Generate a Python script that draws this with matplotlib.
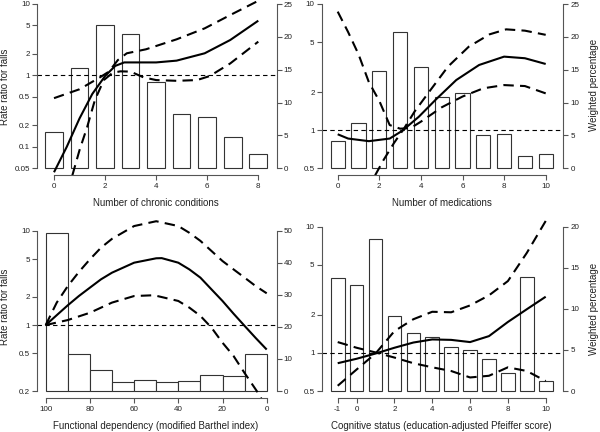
import numpy as np
import matplotlib
matplotlib.use("Agg")
from matplotlib import pyplot as plt

plt.rcParams['font.family'] = ['Liberation Sans', 'DejaVu Sans']

# ---- panel 1: chronic conditions ----
chronic_bins = [0, 1, 2, 3, 4, 5, 6, 7, 8]
chronic_pct = [5.5, 15.2, 21.8, 20.4, 13.2, 8.3, 7.8, 4.7, 2.1]
chronic_x = [0, 0.5, 1, 1.5, 2, 2.4, 2.75, 3.25, 4, 4.8, 5.9, 6.9, 8]
chronic_rr = [0.044, 0.10, 0.25, 0.55, 0.98, 1.36, 1.52, 1.52, 1.52, 1.61, 2.04, 3.13, 5.84]
chronic_up_x = [0, 1, 1.8, 2.15, 2.5, 2.85, 3.6, 4.8, 5.9, 6.9, 8]
chronic_up = [0.48, 0.64, 0.94, 1.13, 1.64, 2.04, 2.32, 3.2, 4.56, 7.0, 11.1]
chronic_lo_x = [0.72, 1, 1.3, 1.6, 1.95, 2.3, 2.6, 3, 3.5, 4, 4.8, 5.6, 6.1, 6.9, 8]
chronic_lo = [0.04, 0.09, 0.19, 0.45, 0.86, 1.09, 1.14, 1.13, 0.94, 0.86, 0.84, 0.86, 0.98, 1.47, 2.97]

# ---- panel 2: medications ----
med_bins = [0, 1, 2, 3, 4, 5, 6, 7, 8, 9, 10]
med_pct = [4.2, 6.9, 14.8, 20.8, 15.4, 10.8, 11.4, 5.1, 5.2, 1.9, 2.2]
med_x = [0, 0.5, 1.5, 2.5, 3.1, 3.9, 4.7, 5.7, 6.8, 8, 9, 10]
med_rr = [0.93, 0.86, 0.82, 0.86, 0.99, 1.28, 1.74, 2.5, 3.29, 3.83, 3.72, 3.35]
med_a_x = [0, 0.5, 1, 1.5, 2, 2.5, 3, 3.5, 4, 5, 6, 7, 8, 9, 10]
med_a = [8.7, 6.0, 4.0, 2.4, 1.71, 1.10, 1.03, 1.04, 1.17, 1.52, 1.85, 2.15, 2.28, 2.24, 1.96]
med_b_x = [1.8, 2.2, 2.7, 3.2, 3.7, 4.4, 5.3, 6.3, 7.3, 8.1, 9, 10]
med_b = [0.44, 0.58, 0.79, 1.04, 1.41, 2.02, 3.19, 4.59, 5.75, 6.3, 6.15, 5.7]

# ---- panel 3: Barthel index ----
barthel_bins = [95, 85, 75, 65, 55, 45, 35, 25, 15, 5]
barthel_pct = [49.2, 11.6, 6.6, 2.8, 3.4, 2.8, 3.1, 4.9, 4.6, 11.4]
barthel_x = [100, 90, 85, 80, 75, 70, 60, 50, 47.5, 40, 35, 30, 25, 20, 15, 10, 5, 0]
barthel_rr = [1.0, 1.62, 2.03, 2.49, 3.05, 3.59, 4.58, 5.1, 5.12, 4.58, 3.89, 3.18,
              2.39, 1.80, 1.32, 0.98, 0.73, 0.55]
barthel_up_x = [100, 95, 90, 85, 80, 75, 70, 60, 50, 40, 35, 30, 25, 20, 15, 10, 5, 0]
barthel_up = [1.0, 1.73, 2.59, 3.65, 4.97, 6.6, 8.2, 11.2, 12.6, 11.2, 9.5, 7.8,
              6.1, 4.77, 3.89, 3.18, 2.59, 2.17]
barthel_lo_x = [100, 90, 80, 70, 60, 51, 40, 35, 30, 25, 20, 15, 10, 4.5, 2]
barthel_lo = [1.0, 1.13, 1.35, 1.73, 2.03, 2.07, 1.80, 1.53, 1.25, 0.94, 0.65, 0.47,
              0.31, 0.2, 0.16]

# ---- panel 4: Pfeiffer score ----
pf_bins = [-1, 0, 1, 2, 3, 4, 5, 6, 7, 8, 9, 10]
pf_pct = [13.7, 12.9, 18.5, 9.1, 7.1, 6.6, 5.3, 5.0, 3.9, 2.2, 13.9, 1.2]
pf_x = [-1, 0, 1, 2, 3, 4, 5, 6, 7, 8, 9, 10]
pf_rr = [0.83, 0.90, 0.99, 1.10, 1.21, 1.28, 1.27, 1.22, 1.36, 1.76, 2.22, 2.79]
pf_up = [0.55, 0.74, 0.99, 1.49, 1.85, 2.12, 2.1, 2.38, 2.86, 3.71, 6.2, 11.1]
pf_lo = [1.22, 1.10, 1.01, 0.92, 0.83, 0.77, 0.72, 0.64, 0.66, 0.77, 0.72, 0.6]

W, H = 600, 432
AX_COL = '#555555'
TXT_COL = '#222222'


def lin(q, p1, v1, p2, v2):
    return v1 + (q - p1) * (v2 - v1) / (p2 - p1)


def panel(px, xt, ylog, yright, xaxis_py, top_py,
          xticks, yticks, yticklabels, rticks):
    # px = (left, right) pixel of axis lines; xt = ((val, px), (val, px))
    # ylog = ((val, py), (val, py)); yright = ((val, py), (val, py))
    left, right = px
    ax = fig.add_axes([left / W, 1 - xaxis_py / H,
                       (right - left) / W, (xaxis_py - top_py) / H])
    (xv1, xp1), (xv2, xp2) = xt
    ax.set_xlim(lin(left, xp1, xv1, xp2, xv2), lin(right, xp1, xv1, xp2, xv2))
    (lv1, lp1), (lv2, lp2) = ylog
    lo = lin(xaxis_py, lp1, np.log10(lv1), lp2, np.log10(lv2))
    hi = lin(top_py, lp1, np.log10(lv1), lp2, np.log10(lv2))
    ax.set_yscale('log')
    ax.set_ylim(10 ** lo, 10 ** hi)
    ax2 = ax.twinx()
    (rv1, rp1), (rv2, rp2) = yright
    ax2.set_ylim(lin(xaxis_py, rp1, rv1, rp2, rv2), lin(top_py, rp1, rv1, rp2, rv2))
    ax.set_zorder(ax2.get_zorder() + 1)
    ax.patch.set_visible(False)

    for a in (ax, ax2):
        a.spines['top'].set_visible(False)
    ax.spines['right'].set_visible(False)
    ax2.spines['left'].set_visible(False)
    ax2.spines['bottom'].set_visible(False)
    for s in ('left', 'bottom'):
        ax.spines[s].set_color(AX_COL)
        ax.spines[s].set_linewidth(0.8)
    ax2.spines['right'].set_color(AX_COL)
    ax2.spines['right'].set_linewidth(0.8)

    ax.set_xticks(xticks)
    ax.set_xticklabels([str(t) for t in xticks])
    ax.spines['bottom'].set_bounds(min(xticks), max(xticks))
    ax.set_yticks(yticks)
    ax.set_yticklabels(yticklabels)
    ax.yaxis.set_minor_locator(matplotlib.ticker.NullLocator())
    ax.spines['left'].set_bounds(min(yticks), max(yticks))
    ax2.set_yticks(rticks)
    ax2.set_yticklabels([str(t) for t in rticks])
    ax2.spines['right'].set_bounds(min(rticks), max(rticks))

    ax.tick_params(axis='both', length=3.6, width=0.8, color=AX_COL,
                   labelsize=5.8, labelcolor=TXT_COL)
    ax.tick_params(axis='x', pad=2.5)
    ax.tick_params(axis='y', pad=1.5)
    ax2.tick_params(axis='y', length=3.6, width=0.8, color=AX_COL,
                    labelsize=5.8, labelcolor=TXT_COL, pad=1.5)
    ax.axhline(1, color='black', lw=0.8, ls=(0, (4, 3)))
    return ax, ax2


def curves(ax, mid, upper, lower):
    ax.plot(*mid, color='black', lw=1.5, solid_capstyle='butt')
    for xs, ys in (upper, lower):
        ax.plot(xs, ys, color='black', lw=1.5, ls=(0, (5, 3)))


fig = plt.figure(figsize=(W / 100, H / 100), dpi=100)
bar_kw = dict(color='white', edgecolor='#333333', linewidth=0.8)

# panel 1
ax, ax2 = panel((37.3, 276.7), ((0, 54.0), (8, 258.3)),
                ((10, 4.0), (0.05, 168.3)), ((25, 4.0), (0, 168.3)), 175, 0,
                [0, 2, 4, 6, 8], [0.05, 0.1, 0.2, 0.5, 1, 2, 5, 10],
                ['0.05', '0.1', '0.2', '0.5', '1', '2', '5', '10'],
                [0, 5, 10, 15, 20, 25])
ax2.bar(chronic_bins, chronic_pct, width=0.69, **bar_kw)
curves(ax, (chronic_x, chronic_rr), (chronic_up_x, chronic_up), (chronic_lo_x, chronic_lo))

# panel 2
ax, ax2 = panel((321.7, 563.3), ((0, 337.7), (10, 545.7)),
                ((10, 4.0), (0.5, 168.3)), ((25, 4.0), (0, 168.3)), 175, 0,
                [0, 2, 4, 6, 8, 10], [0.5, 1, 2, 5, 10],
                ['0.5', '1', '2', '5', '10'],
                [0, 5, 10, 15, 20, 25])
ax2.bar(med_bins, med_pct, width=0.69, **bar_kw)
curves(ax, (med_x, med_rr), (med_a_x, med_a), (med_b_x, med_b))

# panel 3
ax, ax2 = panel((37.3, 276.7), ((100, 45.7), (0, 266.7)),
                ((10, 230.7), (0.2, 391.0)), ((50, 230.7), (0, 391.0)), 397.7, 216,
                [100, 80, 60, 40, 20, 0], [0.2, 0.5, 1, 2, 5, 10],
                ['0.2', '0.5', '1', '2', '5', '10'],
                [0, 10, 20, 30, 40, 50])
ax2.bar(barthel_bins, barthel_pct, width=10, **bar_kw)
curves(ax, (barthel_x, barthel_rr), (barthel_up_x, barthel_up), (barthel_lo_x, barthel_lo))

# panel 4
ax, ax2 = panel((321.7, 563.3), ((-1, 337.7), (10, 545.7)),
                ((10, 226.7), (0.5, 391.0)), ((20, 226.7), (0, 391.0)), 397.7, 216,
                [-1, 0, 2, 4, 6, 8, 10], [0.5, 1, 2, 5, 10],
                ['0.5', '1', '2', '5', '10'],
                [0, 5, 10, 15, 20])
ax2.bar(pf_bins, pf_pct, width=0.72, **bar_kw)
curves(ax, (pf_x, pf_rr), (pf_x, pf_up), (pf_x, pf_lo))

# axis titles
lab = dict(fontsize=7, color=TXT_COL, ha='center', va='center')
fig.text(156 / W, 1 - 203 / H, 'Number of chronic conditions', **lab)
fig.text(441.7 / W, 1 - 203 / H, 'Number of medications', **lab)
fig.text(156 / W, 1 - 426 / H, 'Functional dependency (modified Barthel index)', **lab)
fig.text(441.7 / W, 1 - 426 / H, 'Cognitive status (education-adjusted Pfeiffer score)', **lab)
fig.text(5 / W, 1 - 87 / H, 'Rate ratio for falls', rotation=90, **lab)
fig.text(5 / W, 1 - 307 / H, 'Rate ratio for falls', rotation=90, **lab)
fig.text(594 / W, 1 - 85 / H, 'Weighted percentage', rotation=90, **lab)
fig.text(594 / W, 1 - 309 / H, 'Weighted percentage', rotation=90, **lab)

fig.savefig('out.png', dpi=100)
